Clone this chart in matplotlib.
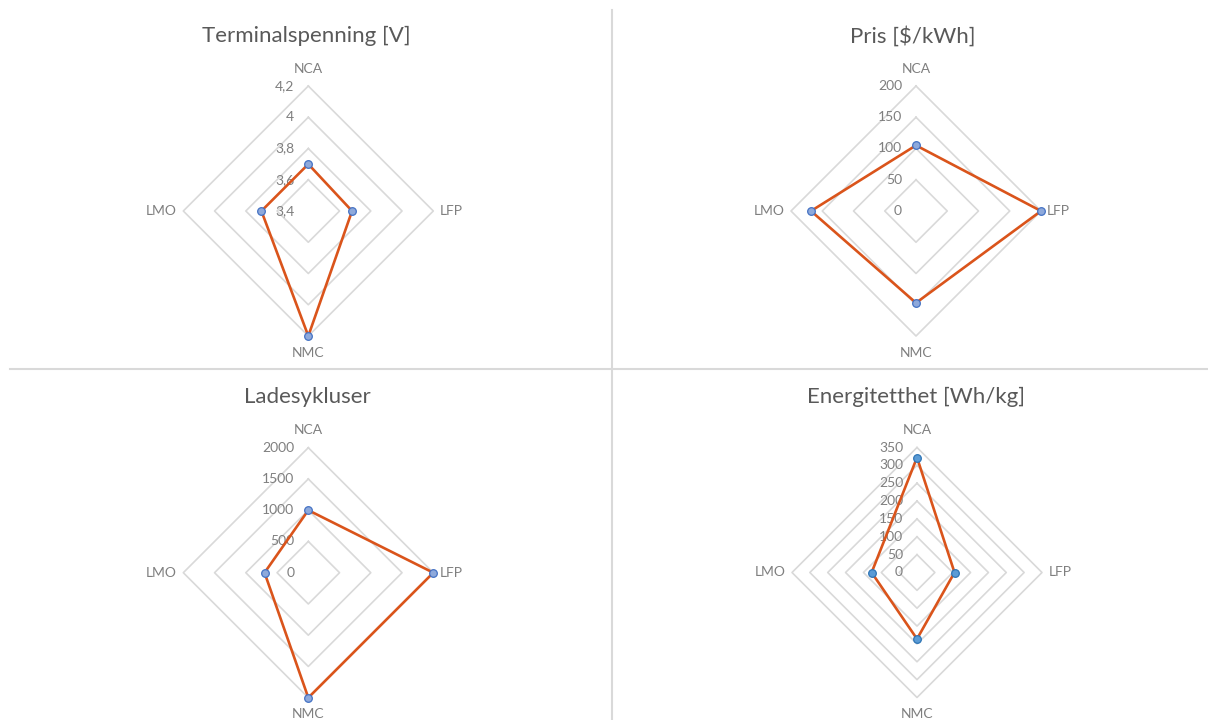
import numpy as np
import matplotlib
matplotlib.use("Agg")
import matplotlib.pyplot as plt
from matplotlib.lines import Line2D

plt.rcParams["font.family"] = ["Lato", "DejaVu Sans"]

# Battery chemistries, clockwise from the top
categories = ["NCA", "LFP", "NMC", "LMO"]

# Values per chemistry (same order as categories)
voltage = [3.70, 3.68, 4.20, 3.70]
price = [105, 200, 147, 168]
cycles = [1000, 2000, 2000, 700]
energy = [322, 105, 186, 127]

# Radial scales
voltage_ticks = [3.4, 3.6, 3.8, 4.0, 4.2]
voltage_labels = ["3,4", "3,6", "3,8", "4", "4,2"]
price_ticks = [0, 50, 100, 150, 200]
price_labels = ["0", "50", "100", "150", "200"]
cycle_ticks = [0, 500, 1000, 1500, 2000]
cycle_labels = ["0", "500", "1000", "1500", "2000"]
energy_ticks = [0, 50, 100, 150, 200, 250, 300, 350]
energy_labels = ["0", "50", "100", "150", "200", "250", "300", "350"]

titles = ["Terminalspenning [V]", r"Pris [\$/kWh]", "Ladesykluser", "Energitetthet [Wh/kg]"]

LINE = "#DA541B"
GRID = "#D9D9D9"
TEXT = "#7F7F7F"
TITLE = "#595959"

W, H = 1208, 720
fig = plt.figure(figsize=(W / 100, H / 100), dpi=100)

R = 125  # radius in px


def radar(cx, cy, values, ticks, labels, mface, medge):
    ax = fig.add_axes([(cx - R) / W, 1 - (cy + R) / H, 2 * R / W, 2 * R / H],
                      projection="polar")
    ax.set_theta_offset(np.pi / 2)
    ax.set_theta_direction(-1)
    ax.set_ylim(ticks[0], ticks[-1])
    ax.grid(False)
    ax.spines["polar"].set_visible(False)
    ax.set_xticks([])
    ax.set_yticks([])
    ax.patch.set_alpha(0)

    theta = np.linspace(0, 2 * np.pi, len(categories), endpoint=False)
    closed = np.concatenate([theta, theta[:1]])

    # diamond-shaped gridlines
    for t in ticks[1:]:
        ax.plot(closed, [t] * len(closed), color=GRID, lw=1.2, zorder=1,
                clip_on=False)

    # radial value labels along the top axis
    for t, lab in zip(ticks, labels):
        ax.annotate(lab, xy=(0, t), xytext=(-10, 0), textcoords="offset points",
                    ha="right", va="center", fontsize=10, color=TEXT,
                    annotation_clip=False)

    # category labels outside the outer ring
    offsets = [((0, 12.5), "center", "center"), ((4.5, 0), "left", "center"),
               ((0, -12), "center", "center"), ((-4.5, 0), "right", "center")]
    for th, cat, (off, ha, va) in zip(theta, categories, offsets):
        ax.annotate(cat, xy=(th, ticks[-1]), xytext=off, textcoords="offset points",
                    ha=ha, va=va, fontsize=10, color=TEXT, annotation_clip=False)

    vals = list(values) + [values[0]]
    ax.plot(closed, vals, color=LINE, lw=1.9, zorder=3, clip_on=False)
    ax.plot(theta, values, ls="none", marker="o", ms=5.5, mfc=mface, mec=medge,
            mew=0.9, zorder=4, clip_on=False)
    return ax


radar(308.3, 211, voltage, voltage_ticks, voltage_labels, "#8EA9DB", "#4472C4")
radar(916, 211, price, price_ticks, price_labels, "#8EA9DB", "#4472C4")
radar(308.3, 572.7, cycles, cycle_ticks, cycle_labels, "#8EA9DB", "#4472C4")
radar(917, 572.5, energy, energy_ticks, energy_labels, "#5B9BD5", "#2E75B6")

title_pos = [(306, 36), (913, 36), (307, 397), (916, 397)]
for (tx, ty), t in zip(title_pos, titles):
    fig.text(tx / W, 1 - ty / H, t, ha="center", va="center", fontsize=16,
             color=TITLE)

# panel separators
fig.add_artist(Line2D([611.5 / W, 611.5 / W], [0, 1 - 10 / H],
                      transform=fig.transFigure, color=GRID, lw=1.5))
fig.add_artist(Line2D([10 / W, 1], [1 - 369 / H, 1 - 369 / H],
                      transform=fig.transFigure, color=GRID, lw=1.5))

fig.savefig("out.png", dpi=100, facecolor="white")
